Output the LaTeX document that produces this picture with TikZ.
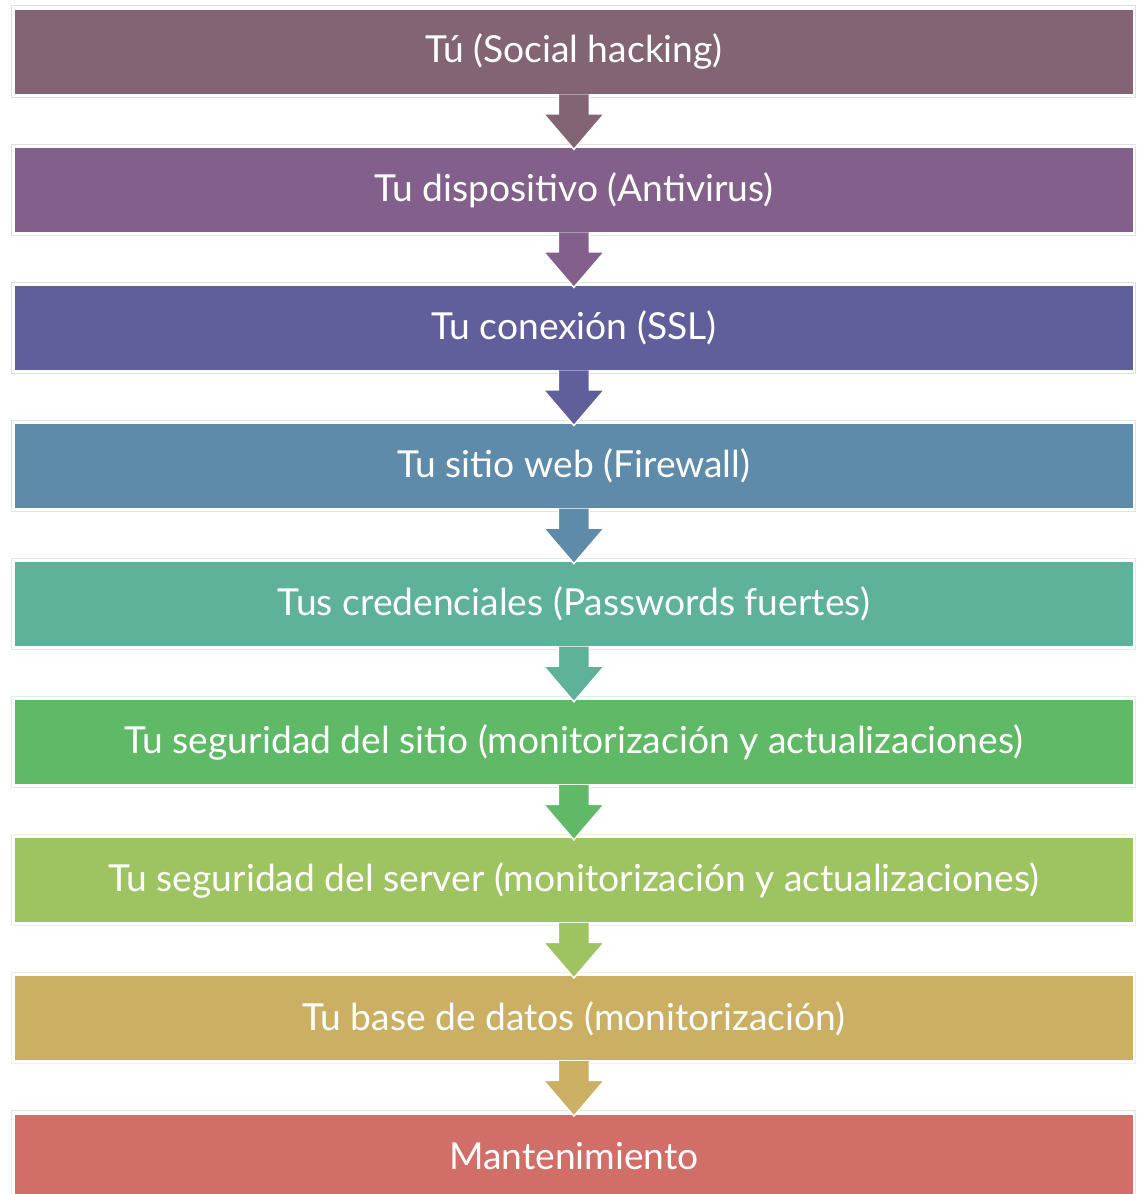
\documentclass[tikz,border=0pt]{standalone}
\usepackage{fontspec}
\setmainfont{Lato}
\definecolor{c1}{HTML}{836474}
\definecolor{c2}{HTML}{83608C}
\definecolor{c3}{HTML}{615F9B}
\definecolor{c4}{HTML}{5E8BA9}
\definecolor{c5}{HTML}{5EB29A}
\definecolor{c6}{HTML}{5FB966}
\definecolor{c7}{HTML}{9DC461}
\definecolor{c8}{HTML}{CBB064}
\definecolor{c9}{HTML}{D16E67}
\tikzset{
  stepbox/.style={rectangle, minimum width=1119pt, minimum height=85.5pt,
    inner sep=0pt, draw=white, line width=1.5pt, text=white,
    font=\fontsize{37.2pt}{42pt}\selectfont},
  halo/.style={draw=#1!22, line width=1pt},
  downarrow/.style={fill=#1, draw=white, line width=1.5pt, line join=miter},
}
\begin{document}
\begin{tikzpicture}[x=1pt,y=-1pt]
\useasboundingbox (0,0) rectangle (1138,1194);
\foreach \i/\c/\t in {
  0/c1/{Tú (Social hacking)},
  1/c2/{Tu dispositivo (Antivirus)},
  2/c3/{Tu conexión (SSL)},
  3/c4/{Tu sitio web (Firewall)},
  4/c5/{Tus credenciales (Passwords fuertes)},
  5/c6/{Tu seguridad del sitio (monitorización y actualizaciones)},
  6/c7/{Tu seguridad del server (monitorización y actualizaciones)},
  7/c8/{Tu base de datos (monitorización)},
  8/c9/{Mantenimiento}} {
  \pgfmathsetmacro\cy{9+138.1*\i+42.75}
  \draw[halo=\c] (11.7,\cy-45.8) rectangle (1135.8,\cy+45.3);
  \node[stepbox, fill=\c] (b\i) at (573.9,\cy) {\t};
}
% connecting arrows, each in the colour of the box above it
\foreach \i/\j/\c in {0/1/c1,1/2/c2,2/3/c3,3/4/c4,4/5/c5,5/6/c6,6/7/c7,7/8/c8} {
  \draw[downarrow=\c]
    ([shift={(-15.5,-1)}]b\i.south) -- ([shift={(-15.5,18.5)}]b\i.south)
    -- ([shift={(-30.5,18.5)}]b\i.south) -- ([yshift=-3pt]b\j.north)
    -- ([shift={(30.5,18.5)}]b\i.south) -- ([shift={(15.5,18.5)}]b\i.south)
    -- ([shift={(15.5,-1)}]b\i.south);
}
\end{tikzpicture}
\end{document}
